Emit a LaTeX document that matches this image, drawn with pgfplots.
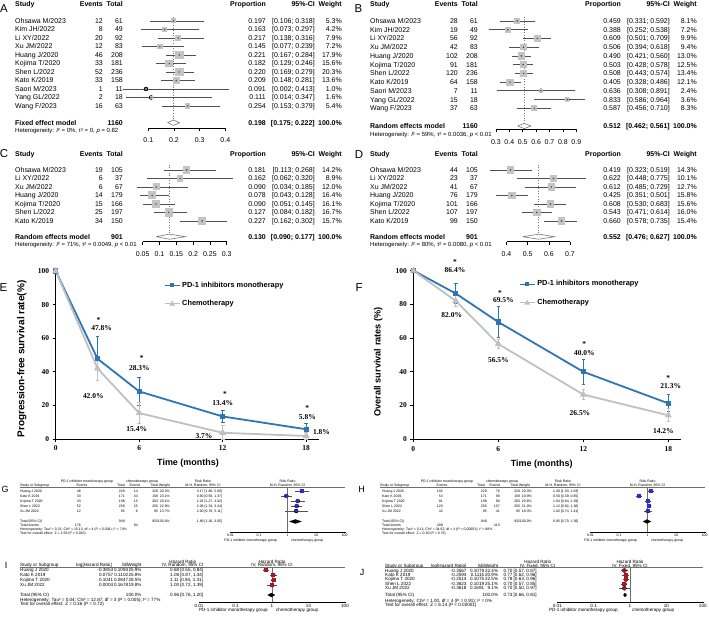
\documentclass[border=0pt]{standalone}
\usepackage{fontspec}
\setmainfont{Liberation Sans}
\newfontfamily\serifface{Liberation Serif}
\usepackage{pgfplots}
\usepackage{pgfplotstable}
\pgfplotsset{compat=1.18}

\newcommand\fsz[1]{\fontsize{#1}{#1}\selectfont}
\newcommand\numf{\serifface\bfseries\fsz{7.5}}

\definecolor{pdblue}{RGB}{46,117,182}
\definecolor{chgray}{RGB}{192,192,192}
\definecolor{boxgray}{RGB}{196,196,196}
\definecolor{cigray}{RGB}{80,80,80}
\definecolor{dotgray}{RGB}{120,120,120}
\definecolor{rmblue}{RGB}{45,45,190}
\definecolor{rmred}{RGB}{165,25,35}
\definecolor{rulegray}{RGB}{110,110,110}

\pgfplotsset{
  forest/.style={scale only axis, anchor=south west, clip=false,
    axis x line*=bottom, axis y line=none, axis line style={-},
    x axis line style={line width=0.6bp, black},
    tick align=outside, major tick length=3bp,
    xtick style={line width=0.6bp, black},
    xticklabel style={font=\fsz{7}, yshift=-3.5bp}, ytick=\empty},
  revman/.style={scale only axis, anchor=south west, clip=false, xmin=-2, xmax=2,
    axis x line*=bottom, axis y line=none, axis line style={-},
    x axis line style={line width=0.35bp, black},
    xtick={-2,-1,0,1,2}, xticklabels={0.01,0.1,1,10,100}, ytick=\empty,
    tick align=outside, major tick length=1.5bp, xtick style={line width=0.35bp, black},
    xticklabel style={inner sep=0.6bp}},
  cibar/.style={only marks, mark=none,
    error bars/x dir=both, error bars/x explicit, error bars/error mark=none,
    error bars/error bar style={line width=#1, cigray}},
  wbox/.style 2 args={scatter, only marks, mark=square*, point meta=explicit,
    draw=#1, fill=#1, mark options={draw=#1, fill=#1, line width=0pt},
    scatter/use mapped color={draw=#1, fill=#1},
    visualization depends on={#2*sqrt(\thisrow{w}) \as \msz},
    scatter/@pre marker code/.append style={/tikz/mark size=\msz}},
  survival/.style={scale only axis, anchor=south west, clip=false, xmin=0, ymin=0,
    axis lines=left, axis line style={-, line width=0.8bp},
    tick align=outside, major tick length=3bp, tick style={line width=0.8bp, black},
    xtick={0,6,12,18}, xticklabels={0,6,12,18},
    ytick={0,20,40,60,80,100}, yticklabels={0,20,40,60,80,100},
    xticklabel style={font=\numf, yshift=-0.5bp}, yticklabel style={font=\numf},
    legend style={anchor=north west, draw=none, fill=none, font=\bfseries\fsz{7.4},
      row sep=8bp, inner sep=0pt, cells={anchor=west}},
    legend image code/.code={\draw[mark repeat=2, mark phase=2, ##1, line width=1bp]
      plot coordinates {(0bp,0bp) (7.5bp,0bp) (15bp,0bp)};}},
  pd/.style={pdblue, line width=1.8bp, mark=square*, mark size=1.7bp},
  ch/.style={chgray, line width=1.8bp, mark=triangle*, mark size=2.3bp},
  ebar/.style={error bars/y dir=both, error bars/y explicit,
    error bars/error bar style={line width=0.9bp},
    error bars/error mark options={rotate=90, mark size=1.8bp, line width=0.9bp}},
}

% ---------- single-arm proportions
\pgfplotstableread{
k  p      lo     hi     w
1  0.197  0.106  0.318  5.3
2  0.163  0.073  0.297  4.2
3  0.217  0.138  0.316  7.9
4  0.145  0.077  0.239  7.2
5  0.221  0.167  0.284  17.9
6  0.182  0.129  0.246  15.6
7  0.220  0.169  0.279  20.3
8  0.209  0.148  0.281  13.6
9  0.091  0.002  0.413  1.0
10 0.111  0.014  0.347  1.6
11 0.254  0.153  0.379  5.4
}\propA
\pgfplotstableread{
k  p      lo     hi     w
1  0.459  0.331  0.592  8.1
2  0.388  0.252  0.538  7.2
3  0.609  0.501  0.709  9.9
4  0.506  0.394  0.618  9.4
5  0.490  0.421  0.560  13.0
6  0.503  0.428  0.578  12.5
7  0.508  0.443  0.574  13.4
8  0.405  0.328  0.486  12.1
9  0.636  0.308  0.891  2.4
10 0.833  0.586  0.964  3.6
11 0.587  0.456  0.710  8.3
}\propB
\pgfplotstableread{
k  p      lo     hi     w
1  0.181  0.113  0.268  14.2
2  0.162  0.062  0.320  8.9
3  0.090  0.034  0.185  12.0
4  0.078  0.043  0.128  16.4
5  0.090  0.051  0.145  16.1
6  0.127  0.084  0.182  16.7
7  0.227  0.162  0.302  15.7
}\propC
\pgfplotstableread{
k  p      lo     hi     w
1  0.419  0.323  0.519  14.3
2  0.622  0.448  0.775  10.1
3  0.612  0.485  0.729  12.7
4  0.425  0.351  0.501  15.8
5  0.608  0.530  0.683  15.6
6  0.543  0.471  0.614  16.0
7  0.660  0.578  0.735  15.4
}\propD

% ---------- survival rates (%) with error bars
\pgfplotstableread{
t   v     ep    em
0   100   0     0
3   47.8  13.2  13.2
6   28.3  8.2   8.2
12  13.4  3.6   3.6
18  5.8   3.4   3.4
}\pfsPD
\pgfplotstableread{
t   v     ep    em
0   100   0     0
3   42.0  7.0   7.0
6   15.4  6.4   6.4
12  3.7   4.5   3.7
18  1.8   2.2   1.8
}\pfsCT
\pgfplotstableread{
t   v     ep    em
0   100   0     0
3   86.4  6.0   6.0
6   69.5  9.4   9.4
12  40.0  7.6   7.6
18  21.3  5.0   5.0
}\osPD
\pgfplotstableread{
t   v     ep    em
0   100   0     0
3   82.0  3.0   3.0
6   56.5  2.5   2.5
12  26.5  3.0   3.0
18  14.2  3.8   3.8
}\osCT

% ---------- risk ratios and hazard ratios
\pgfplotstableread{
k rr   lo   hi   w
1 3.17 1.80 5.60 20.3
2 0.90 0.58 1.37 23.1
3 2.26 1.27 4.02 20.1
4 2.08 1.33 3.24 22.8
5 2.00 0.78 5.11 13.7
}\rrG
\pgfplotstableread{
k rr   lo   hi   w
1 1.30 1.03 1.63 20.3
2 0.50 0.39 0.65 19.9
3 1.04 0.84 1.29 20.6
4 1.12 0.92 1.36 21.0
5 1.02 0.74 1.41 18.3
}\rrH
\pgfplotstableread{
k rr   lo   hi   w
1 0.68 0.55 0.84 25.9
2 1.08 0.87 1.34 25.8
3 1.11 0.94 1.31 28.5
4 1.00 0.72 1.39 19.8
}\hrI
\pgfplotstableread{
k rr   lo   hi   w
1 0.70 0.57 0.87 22.4
2 0.77 0.62 0.96 20.9
3 0.78 0.63 0.96 22.5
4 0.70 0.57 0.85 25.1
5 0.70 0.50 0.97 9.1
}\hrJ

% text rows of the tables
\def\fdx{0}
\newcommand\frow[7]{% py, study, events, total, proportion, ci, weight
  \node[anchor=base west] at ({15+\fdx},{622.5-#1}) {#2};
  \node[anchor=base east] at ({103+\fdx},{622.5-#1}) {#3};
  \node[anchor=base east] at ({123+\fdx},{622.5-#1}) {#4};
  \node[anchor=base east] at ({266+\fdx},{622.5-#1}) {#5};
  \node[anchor=base east] at ({315+\fdx},{622.5-#1}) {#6};
  \node[anchor=base east] at ({342+\fdx},{622.5-#1}) {#7};}
\def\gdx{0}\def\gci{196.7}
\newcommand\grow[8]{% py, study, events, total, events, total, weight, ci
  \node[anchor=base west] at ({20+\gdx},{623.8-#1}) {#2};
  \node[anchor=base east] at ({81+\gdx},{623.8-#1}) {#3};
  \node[anchor=base east] at ({125+\gdx},{623.8-#1}) {#4};
  \node[anchor=base east] at ({138+\gdx},{623.8-#1}) {#5};
  \node[anchor=base east] at ({158.3+\gdx},{623.8-#1}) {#6};
  \node[anchor=base east] at ({170+\gdx},{623.8-#1}) {#7};
  \node[anchor=base west] at ({\gci},{623.8-#1}) {#8};}
\def\hx{20}\def\hlx{113.3}\def\hsx{128.3}\def\hwx{141.7}\def\hcx{170}
\newcommand\hrow[6]{% py, study, log HR, SE, weight, ci
  \node[anchor=base west] at ({\hx},{623.4-#1}) {#2};
  \node[anchor=base east] at ({\hlx},{623.4-#1}) {#3};
  \node[anchor=base east] at ({\hsx},{623.4-#1}) {#4};
  \node[anchor=base east] at ({\hwx},{623.4-#1}) {#5};
  \node[anchor=base west] at ({\hcx},{623.4-#1}) {#6};}

\begin{document}
\begin{tikzpicture}[x=1bp,y=1bp]
\path[use as bounding box] (0,0) rectangle (709,625);

% ================= A
\begin{axis}[forest, at={(148.3bp,497bp)}, width=77bp, height=115.5bp,
  xmin=0.1, xmax=0.4, ymin=-13.588, ymax=0,
  xtick={0.1,0.2,0.3,0.4}, xticklabels={0.1,0.2,0.3,0.4}]
  \addplot[dotted, dotgray, line width=0.6bp] coordinates {(0.198,-0.55) (0.198,-12.965)};
  \addplot[cibar=0.7bp] table[x=p, y expr=-\thisrow{k}, x error plus expr=\thisrow{hi}-\thisrow{p}, x error minus expr=\thisrow{p}-\thisrow{lo}] \propA;
  \addplot[wbox={boxgray}{0.87}] table[x=p, y expr=-\thisrow{k}, meta=w] \propA;
  \addplot[only marks, mark=*, mark size=0.55bp, cigray] table[x=p, y expr=-\thisrow{k}] \propA;
  \addplot[draw=dotgray, fill=white, line width=0.6bp] coordinates {(0.175,-12.965) (0.198,-12.645) (0.222,-12.965) (0.198,-13.285) (0.175,-12.965)};
\end{axis}

% ================= B
\begin{axis}[forest, at={(495.9bp,495.5bp)}, width=80.4bp, height=117.2bp,
  xmin=0.3, xmax=0.9, ymin=-13.43, ymax=0,
  xtick={0.3,0.4,0.5,0.6,0.7,0.8,0.9}, xticklabels={0.3,0.4,0.5,0.6,0.7,0.8,0.9}]
  \addplot[dotted, dotgray, line width=0.6bp] coordinates {(0.512,-0.5) (0.512,-13.03)};
  \addplot[cibar=0.7bp] table[x=p, y expr=-\thisrow{k}, x error plus expr=\thisrow{hi}-\thisrow{p}, x error minus expr=\thisrow{p}-\thisrow{lo}] \propB;
  \addplot[wbox={boxgray}{0.87}] table[x=p, y expr=-\thisrow{k}, meta=w] \propB;
  \addplot[only marks, mark=*, mark size=0.55bp, cigray] table[x=p, y expr=-\thisrow{k}] \propB;
  \addplot[draw=dotgray, fill=white, line width=0.6bp] coordinates {(0.462,-13.03) (0.512,-12.73) (0.561,-13.03) (0.512,-13.33) (0.462,-13.03)};
\end{axis}

% ================= C
\begin{axis}[forest, at={(142.7bp,383.3bp)}, width=84bp, height=80.2bp,
  xmin=0.05, xmax=0.3, ymin=-9.435, ymax=0,
  xtick={0.05,0.1,0.15,0.2,0.25,0.3}, xticklabels={0.05,0.1,0.15,0.2,0.25,0.3}]
  \addplot[dotted, dotgray, line width=0.6bp] coordinates {(0.130,-0.4) (0.130,-8.847)};
  \addplot[cibar=0.7bp] table[x=p, y expr=-\thisrow{k}, x error plus expr=\thisrow{hi}-\thisrow{p}, x error minus expr=\thisrow{p}-\thisrow{lo}] \propC;
  \addplot[wbox={boxgray}{0.87}] table[x=p, y expr=-\thisrow{k}, meta=w] \propC;
  \addplot[only marks, mark=*, mark size=0.55bp, cigray] table[x=p, y expr=-\thisrow{k}] \propC;
  \addplot[draw=dotgray, fill=white, line width=0.6bp] coordinates {(0.090,-8.847) (0.130,-8.547) (0.177,-8.847) (0.130,-9.147) (0.090,-8.847)};
\end{axis}

% ================= D
\begin{axis}[forest, at={(506.5bp,383.3bp)}, width=63.5bp, height=80.2bp,
  xmin=0.4, xmax=0.7, ymin=-9.435, ymax=0,
  xtick={0.4,0.5,0.6,0.7}, xticklabels={0.4,0.5,0.6,0.7}]
  \addplot[dotted, dotgray, line width=0.6bp] coordinates {(0.552,-0.4) (0.552,-8.847)};
  \addplot[cibar=0.7bp] table[x=p, y expr=-\thisrow{k}, x error plus expr=\thisrow{hi}-\thisrow{p}, x error minus expr=\thisrow{p}-\thisrow{lo}] \propD;
  \addplot[wbox={boxgray}{0.87}] table[x=p, y expr=-\thisrow{k}, meta=w] \propD;
  \addplot[only marks, mark=*, mark size=0.55bp, cigray] table[x=p, y expr=-\thisrow{k}] \propD;
  \addplot[draw=dotgray, fill=white, line width=0.6bp] coordinates {(0.476,-8.847) (0.552,-8.547) (0.627,-8.847) (0.552,-9.147) (0.476,-8.847)};
\end{axis}

% ================= E
\begin{axis}[survival, at={(55.7bp,186bp)}, width=263.6bp, height=169.7bp,
  xmax=18.94, ymax=101, legend style={at={(0.411,0.94)}}]
  \addplot[pd, ebar] table[x=t, y=v, y error plus=ep, y error minus=em] \pfsPD;
  \addlegendentry{PD-1 inhibitors monotherapy}
  \addplot[ch, ebar] table[x=t, y=v, y error plus=ep, y error minus=em] \pfsCT;
  \addlegendentry{Chemotherapy}
  \begin{scope}[every node/.style={font=\numf, inner sep=0pt}]
    \node at (axis cs:3.07,71.0) {*};   \node at (axis cs:3.30,66.2) {47.8\%};
    \node at (axis cs:2.70,25.6) {42.0\%};
    \node at (axis cs:6.18,48.2) {*};   \node at (axis cs:6.01,42.1) {28.3\%};
    \node at (axis cs:5.82,5.95) {15.4\%};
    \node at (axis cs:12.16,27.0) {*};  \node at (axis cs:12.0,21.3) {13.4\%};
    \node at (axis cs:10.65,2.0) {3.7\%};
    \node at (axis cs:18.08,18.3) {*};  \node at (axis cs:18.08,13.0) {5.8\%};
    \node at (axis cs:19.1,4.0) {1.8\%};
  \end{scope}
\end{axis}

% ================= F
\begin{axis}[survival, at={(413.3bp,185.7bp)}, width=267.8bp, height=170.4bp,
  xmax=18.9, ymax=101, legend style={at={(0.395,0.944)}}]
  \addplot[pd, ebar] table[x=t, y=v, y error plus=ep, y error minus=em] \osPD;
  \addlegendentry{PD-1 inhibitors monotherapy}
  \addplot[ch, ebar] table[x=t, y=v, y error plus=ep, y error minus=em] \osCT;
  \addlegendentry{Chemotherapy}
  \begin{scope}[every node/.style={font=\numf, inner sep=0pt}]
    \node at (axis cs:2.94,105.2) {*};  \node at (axis cs:2.94,100.2) {86.4\%};
    \node at (axis cs:2.71,73.4) {82.0\%};
    \node at (axis cs:6.12,86.8) {*};   \node at (axis cs:6.35,82.4) {69.5\%};
    \node at (axis cs:6.0,46.7) {56.5\%};
    \node at (axis cs:12.07,56.2) {*};  \node at (axis cs:12.07,51.4) {40.0\%};
    \node at (axis cs:11.76,15.8) {26.5\%};
    \node at (axis cs:18.0,36.6) {*};   \node at (axis cs:18.17,31.8) {21.3\%};
    \node at (axis cs:17.65,4.8) {14.2\%};
  \end{scope}
\end{axis}

% ================= G
\begin{axis}[revman, at={(230.5bp,93bp)}, width=114.2bp, height=46bp, ymin=-9.2, ymax=0,
  xticklabel style={font=\fsz{3.5}}]
  \addplot[rulegray, line width=0.35bp] coordinates {(0,-0.3) (0,-9.2)};
  \addplot[cibar=0.4bp] table[x expr={log10(\thisrow{rr})}, y expr=-\thisrow{k}, x error plus expr={log10(\thisrow{hi})-log10(\thisrow{rr})}, x error minus expr={log10(\thisrow{rr})-log10(\thisrow{lo})}] \rrG;
  \addplot[wbox={rmblue}{0.27}] table[x expr={log10(\thisrow{rr})}, y expr=-\thisrow{k}, meta=w] \rrG;
  \addplot[fill=black, draw=black, line width=0.2bp] table[x expr={log10(\thisrow{x})}, y=y] {
    x    y
    1.16 -7.1
    1.89 -6.7
    3.05 -7.1
    1.89 -7.5
    1.16 -7.1
  };
\end{axis}

% ================= H
\begin{axis}[revman, at={(590.5bp,93bp)}, width=114.2bp, height=46bp, ymin=-9.2, ymax=0,
  xticklabel style={font=\fsz{3.5}}]
  \addplot[rulegray, line width=0.35bp] coordinates {(0,-0.3) (0,-9.2)};
  \addplot[cibar=0.4bp] table[x expr={log10(\thisrow{rr})}, y expr=-\thisrow{k}, x error plus expr={log10(\thisrow{hi})-log10(\thisrow{rr})}, x error minus expr={log10(\thisrow{rr})-log10(\thisrow{lo})}] \rrH;
  \addplot[wbox={rmblue}{0.27}] table[x expr={log10(\thisrow{rr})}, y expr=-\thisrow{k}, meta=w] \rrH;
  \addplot[fill=black, draw=black, line width=0.2bp] table[x expr={log10(\thisrow{x})}, y=y] {
    x    y
    0.70 -7.1
    0.95 -6.7
    1.30 -7.1
    0.95 -7.5
    0.70 -7.1
  };
\end{axis}

% ================= I
\begin{axis}[revman, at={(199bp,23.3bp)}, width=146bp, height=36.7bp, ymin=-7.34, ymax=0,
  xticklabel style={font=\fsz{4.6}}]
  \addplot[rulegray, line width=0.35bp] coordinates {(0,-0.46) (0,-7.34)};
  \addplot[cibar=0.45bp] table[x expr={log10(\thisrow{rr})}, y expr=-\thisrow{k}, x error plus expr={log10(\thisrow{hi})-log10(\thisrow{rr})}, x error minus expr={log10(\thisrow{rr})-log10(\thisrow{lo})}] \hrI;
  \addplot[wbox={rmred}{0.3}] table[x expr={log10(\thisrow{rr})}, y expr=-\thisrow{k}, meta=w] \hrI;
  \addplot[fill=black, draw=black, line width=0.2bp] table[x expr={log10(\thisrow{x})}, y=y] {
    x    y
    0.76 -6
    0.96 -5.6
    1.20 -6
    0.96 -6.4
    0.76 -6
  };
\end{axis}

% ================= J
\begin{axis}[revman, at={(557.2bp,23.3bp)}, width=145.6bp, height=35.65bp, ymin=-8.01, ymax=0,
  xticklabel style={font=\fsz{4.6}}]
  \addplot[rulegray, line width=0.35bp] coordinates {(0,-0.28) (0,-8.01)};
  \addplot[cibar=0.45bp] table[x expr={log10(\thisrow{rr})}, y expr=-\thisrow{k}, x error plus expr={log10(\thisrow{hi})-log10(\thisrow{rr})}, x error minus expr={log10(\thisrow{rr})-log10(\thisrow{lo})}] \hrJ;
  \addplot[wbox={rmred}{0.3}] table[x expr={log10(\thisrow{rr})}, y expr=-\thisrow{k}, meta=w] \hrJ;
  \addplot[fill=black, draw=black, line width=0.2bp] table[x expr={log10(\thisrow{x})}, y=y] {
    x    y
    0.66 -6.506
    0.73 -6.056
    0.81 -6.506
    0.73 -6.956
    0.66 -6.506
  };
\end{axis}

% ================= text of the tables
\begin{scope}[every node/.style={inner sep=0pt}]
  % panel letters
  \begin{scope}[every node/.append style={font=\fsz{11.5}}]
    \node at (4,616) {A};   \node at (358.5,616) {B};
    \node at (4,471) {C};   \node at (359,470) {D};
    \node at (3.5,337.5) {E}; \node at (359,337) {F};
  \end{scope}
  \begin{scope}[every node/.append style={font=\fsz{9}}]
    \node at (5,135.5) {G};  \node at (361.5,135.5) {H};
    \node at (6,60) {I};     \node at (362,53) {J};
  \end{scope}

  % ---- A
  \begin{scope}[every node/.append style={font=\fsz{7}}]
    \def\fdx{0}
    \frow{4}{\bfseries Study}{\bfseries Events}{\bfseries Total}{\bfseries Proportion}{\bfseries 95\%-CI}{\bfseries Weight}
    \frow{21}{Ohsawa M/2023}{12}{61}{0.197}{[0.106; 0.318]}{5.3\%}
    \frow{29.5}{Kim JH/2022}{8}{49}{0.163}{[0.073; 0.297]}{4.2\%}
    \frow{38}{Li XY/2022}{20}{92}{0.217}{[0.138; 0.316]}{7.9\%}
    \frow{46.5}{Xu JM/2022}{12}{83}{0.145}{[0.077; 0.239]}{7.2\%}
    \frow{55}{Huang J/2020}{46}{208}{0.221}{[0.167; 0.284]}{17.9\%}
    \frow{63.5}{Kojima T/2020}{33}{181}{0.182}{[0.129; 0.246]}{15.6\%}
    \frow{72}{Shen L/2022}{52}{236}{0.220}{[0.169; 0.279]}{20.3\%}
    \frow{80.5}{Kato K/2019}{33}{158}{0.209}{[0.148; 0.281]}{13.6\%}
    \frow{89}{Saori M/2023}{1}{11}{0.091}{[0.002; 0.413]}{1.0\%}
    \frow{97.5}{Yang GL/2022}{2}{18}{0.111}{[0.014; 0.347]}{1.6\%}
    \frow{106}{Wang F/2023}{16}{63}{0.254}{[0.153; 0.379]}{5.4\%}
    \frow{122.7}{\bfseries Fixed effect model}{}{\bfseries 1160}{\bfseries 0.198}{\bfseries [0.175; 0.222]}{\bfseries 100.0\%}
    \node[anchor=base west, font=\fsz{6}] at (15,{623-131}) {Heterogeneity: \textit{I}² = 0\%, τ² = 0, \textit{p} = 0.82};
    % ---- B
    \def\fdx{355}
    \frow{4}{\bfseries Study}{\bfseries Events}{\bfseries Total}{\bfseries Proportion}{\bfseries 95\%-CI}{\bfseries Weight}
    \frow{21}{Ohsawa M/2023}{28}{61}{0.459}{[0.331; 0.592]}{8.1\%}
    \frow{29.73}{Kim JH/2022}{19}{49}{0.388}{[0.252; 0.538]}{7.2\%}
    \frow{38.46}{Li XY/2022}{56}{92}{0.609}{[0.501; 0.709]}{9.9\%}
    \frow{47.19}{Xu JM/2022}{42}{83}{0.506}{[0.394; 0.618]}{9.4\%}
    \frow{55.92}{Huang J/2020}{102}{208}{0.490}{[0.421; 0.560]}{13.0\%}
    \frow{64.65}{Kojima T/2020}{91}{181}{0.503}{[0.428; 0.578]}{12.5\%}
    \frow{73.38}{Shen L/2022}{120}{236}{0.508}{[0.443; 0.574]}{13.4\%}
    \frow{82.11}{Kato K/2019}{64}{158}{0.405}{[0.328; 0.486]}{12.1\%}
    \frow{90.84}{Saori M/2023}{7}{11}{0.636}{[0.308; 0.891]}{2.4\%}
    \frow{99.57}{Yang GL/2022}{15}{18}{0.833}{[0.586; 0.964]}{3.6\%}
    \frow{108.3}{Wang F/2023}{37}{63}{0.587}{[0.456; 0.710]}{8.3\%}
    \frow{126}{\bfseries Random effects model}{}{\bfseries 1160}{\bfseries 0.512}{\bfseries [0.462; 0.561]}{\bfseries 100.0\%}
    \node[anchor=base west, font=\fsz{6}] at (370,{623-134.3}) {Heterogeneity: \textit{I}² = 59\%, τ² = 0.0036, \textit{p} < 0.01};
    % ---- C
    \def\fdx{0}
    \frow{154}{\bfseries Study}{\bfseries Events}{\bfseries Total}{\bfseries Proportion}{\bfseries 95\%-CI}{\bfseries Weight}
    \frow{170}{Ohsawa M/2023}{19}{105}{0.181}{[0.113; 0.268]}{14.2\%}
    \frow{178.5}{Li XY/2022}{6}{37}{0.162}{[0.062; 0.320]}{8.9\%}
    \frow{187}{Xu JM/2022}{6}{67}{0.090}{[0.034; 0.185]}{12.0\%}
    \frow{195.5}{Huang J/2020}{14}{179}{0.078}{[0.043; 0.128]}{16.4\%}
    \frow{204}{Kojima T/2020}{15}{166}{0.090}{[0.051; 0.145]}{16.1\%}
    \frow{212.5}{Shen L/2022}{25}{197}{0.127}{[0.084; 0.182]}{16.7\%}
    \frow{221}{Kato K/2019}{34}{150}{0.227}{[0.162; 0.302]}{15.7\%}
    \frow{236.7}{\bfseries Random effects model}{}{\bfseries 901}{\bfseries 0.130}{\bfseries [0.090; 0.177]}{\bfseries 100.0\%}
    \node[anchor=base west, font=\fsz{6}] at (15,{623-245}) {Heterogeneity: \textit{I}² = 71\%, τ² = 0.0049, \textit{p} < 0.01};
    % ---- D
    \def\fdx{355}
    \frow{154}{\bfseries Study}{\bfseries Events}{\bfseries Total}{\bfseries Proportion}{\bfseries 95\%-CI}{\bfseries Weight}
    \frow{170}{Ohsawa M/2023}{44}{105}{0.419}{[0.323; 0.519]}{14.3\%}
    \frow{178.5}{Li XY/2022}{23}{37}{0.622}{[0.448; 0.775]}{10.1\%}
    \frow{187}{Xu JM/2022}{41}{67}{0.612}{[0.485; 0.729]}{12.7\%}
    \frow{195.5}{Huang J/2020}{76}{179}{0.425}{[0.351; 0.501]}{15.8\%}
    \frow{204}{Kojima T/2020}{101}{166}{0.608}{[0.530; 0.683]}{15.6\%}
    \frow{212.5}{Shen L/2022}{107}{197}{0.543}{[0.471; 0.614]}{16.0\%}
    \frow{221}{Kato K/2019}{99}{150}{0.660}{[0.578; 0.735]}{15.4\%}
    \frow{236.7}{\bfseries Random effects model}{}{\bfseries 901}{\bfseries 0.552}{\bfseries [0.476; 0.627]}{\bfseries 100.0\%}
    \node[anchor=base west, font=\fsz{6}] at (370,{623-245}) {Heterogeneity: \textit{I}² = 80\%, τ² = 0.0080, \textit{p} < 0.01};
  \end{scope}

  % ---- axis titles of E and F
  \begin{scope}[every node/.append style={font=\bfseries\fsz{9}}]
    \node at (188,162) {Time (months)};
    \node at (541.7,160.5) {Time (months)};
  \end{scope}
  \node[rotate=90, font=\bfseries\fsz{10}] at (21.7,266) {Progression-free survival rate(\%)};
  \node[rotate=90, font=\bfseries\fsz{9.2}] at (378.3,263) {Overall survival rates (\%)};

  % ---- G and H
  \begin{scope}[every node/.append style={font=\fsz{3.5}}]
    \foreach \dx/\ax in {0/0, 360/360} {
      \node[anchor=base] at ({87+\dx},{623.8-481}) {PD-1 inhibitor monotherapy group};
      \node[anchor=base] at ({142+\dx},{623.8-481}) {chemotherapy group};
      \node[anchor=base] at ({203+\dx},{623.8-481}) {Risk Ratio};
      \node[anchor=base] at ({287.5+\ax},{623.8-481}) {Risk Ratio};
      \node[anchor=base west] at ({20+\dx},{623.8-485}) {Study or Subgroup};
      \node[anchor=base] at ({82+\dx},{623.8-485}) {Events};
      \node[anchor=base east] at ({125+\dx},{623.8-485}) {Total};
      \node[anchor=base] at ({135+\dx},{623.8-485}) {Events};
      \node[anchor=base east] at ({158.3+\dx},{623.8-485}) {Total};
      \node[anchor=base east] at ({170+\dx},{623.8-485}) {Weight};
      \node[anchor=base] at ({203+\dx},{623.8-485}) {M-H, Random, 95\% CI};
      \node[anchor=base] at ({287.5+\ax},{623.8-485}) {M-H, Random, 95\% CI};
      \draw[rulegray, line width=0.3bp] ({20+\dx},{625-487.5}) -- ({345+\dx},{625-487.5});
      \node[anchor=base east] at ({277+\ax},{623.8-540}) {PD-1 inhibitor monotherapy group};
      \node[anchor=base west] at ({291+\ax},{623.8-540}) {chemotherapy group};
    }
    \def\gdx{0}\def\gci{196.7}
    \grow{491}{Huang J 2020}{46}{229}{14}{220}{20.3\%}{3.17 [1.80, 5.60]}
    \grow{496}{Kato K 2019}{33}{171}{34}{158}{23.1\%}{0.90 [0.58, 1.37]}
    \grow{501}{Kojima T 2020}{33}{198}{15}{203}{20.1\%}{2.26 [1.27, 4.02]}
    \grow{506}{Shen L 2022}{52}{256}{25}{256}{22.8\%}{2.08 [1.33, 3.24]}
    \grow{511}{Xu JM 2022}{12}{95}{6}{95}{13.7\%}{2.00 [0.78, 5.11]}
    \grow{521.5}{Total (95\% CI)}{}{949}{}{932}{100.0\%}{1.89 [1.16, 3.05]}
    \grow{525.5}{Total events}{176}{}{94}{}{}{}
    \node[anchor=base west] at (20,{623.8-529.5}) {Heterogeneity: Tau² = 0.21; Chi² = 15.13, df = 4 (P = 0.004); I² = 74\%};
    \node[anchor=base west] at (20,{623.8-533.5}) {Test for overall effect: Z = 2.58 (P = 0.010)};
    \def\gdx{362}\def\gci{553}
    \grow{491}{Huang J 2020}{102}{229}{76}{220}{20.3\%}{1.30 [1.03, 1.63]}
    \grow{496}{Kato K 2019}{54}{171}{99}{158}{19.9\%}{0.50 [0.39, 0.65]}
    \grow{501}{Kojima T 2020}{91}{198}{90}{203}{20.6\%}{1.04 [0.84, 1.29]}
    \grow{506}{Shen L 2022}{120}{256}{107}{256}{21.0\%}{1.12 [0.92, 1.36]}
    \grow{511}{Xu JM 2022}{42}{95}{41}{95}{18.3\%}{1.02 [0.74, 1.41]}
    \grow{521.5}{Total (95\% CI)}{}{949}{}{932}{100.0\%}{0.95 [0.70, 1.30]}
    \grow{525.5}{Total events}{409}{}{413}{}{}{}
    \node[anchor=base west] at (382,{623.8-529.5}) {Heterogeneity: Tau² = 0.11; Chi² = 34.62, df = 4 (P < 0.00001); I² = 88\%};
    \node[anchor=base west] at (382,{623.8-533.5}) {Test for overall effect: Z = 0.30 (P = 0.76)};
  \end{scope}

  % ---- I and J
  \begin{scope}[every node/.append style={font=\fsz{4.6}}]
    \node[anchor=base] at (182.7,{623.4-561.5}) {Hazard Ratio};
    \node[anchor=base] at (272,{623.4-561.5}) {Hazard Ratio};
    \node[anchor=base west] at (20,{623.4-565.3}) {Study or Subgroup};
    \node[anchor=base east] at (112,{623.4-565.3}) {log[Hazard Ratio]};
    \node[anchor=base east] at (128.3,{623.4-565.3}) {SE};
    \node[anchor=base east] at (141.7,{623.4-565.3}) {Weight};
    \node[anchor=base] at (182.7,{623.4-565.3}) {IV, Random, 95\% CI};
    \node[anchor=base] at (272,{623.4-565.3}) {IV, Random, 95\% CI};
    \draw[rulegray, line width=0.3bp] (20,{625-567.3}) -- (345,{625-567.3});
    \def\hx{20}\def\hlx{113.3}\def\hsx{128.3}\def\hwx{141.7}\def\hcx{170}
    \hrow{570}{Huang J 2020}{-0.3853}{0.1094}{25.9\%}{0.68 [0.55, 0.84]}
    \hrow{575}{Kato K 2019}{0.0757}{0.1102}{25.8\%}{1.08 [0.87, 1.34]}
    \hrow{580}{Kojima T 2020}{0.1041}{0.0847}{28.5\%}{1.11 [0.94, 1.31]}
    \hrow{585}{Xu JM 2022}{0.0004}{0.1678}{19.8\%}{1.00 [0.72, 1.39]}
    \hrow{595}{Total (95\% CI)}{}{}{100.0\%}{0.96 [0.76, 1.20]}
    \node[anchor=base west] at (20,{623.4-599.5}) {Heterogeneity: Tau² = 0.04; Chi² = 12.87, df = 3 (P = 0.005); I² = 77\%};
    \node[anchor=base west] at (20,{623.4-604.3}) {Test for overall effect: Z = 0.36 (P = 0.72)};
    \node[anchor=base east] at (268,{623.4-609.5}) {PD-1 inhibitor monotherapy group};
    \node[anchor=base west] at (276,{623.4-609.5}) {chemotherapy group};

    \node[anchor=base] at (537.7,{623.4-561.5}) {Hazard Ratio};
    \node[anchor=base] at (630,{623.4-561.5}) {Hazard Ratio};
    \node[anchor=base west] at (385,{623.4-565.5}) {Study or Subgroup};
    \node[anchor=base east] at (466.7,{623.4-565.5}) {log[Hazard Ratio]};
    \node[anchor=base east] at (484.3,{623.4-565.5}) {SE};
    \node[anchor=base east] at (498.3,{623.4-565.5}) {Weight};
    \node[anchor=base] at (537.7,{623.4-565.5}) {IV, Fixed, 95\% CI};
    \node[anchor=base] at (630,{623.4-565.5}) {IV, Fixed, 95\% CI};
    \draw[rulegray, line width=0.3bp] (385,{625-567.3}) -- (703,{625-567.3});
    \def\hx{385}\def\hlx{466.7}\def\hsx{484.3}\def\hwx{498.3}\def\hcx{503.3}
    \hrow{570.5}{Huang J 2020}{-0.3567}{0.1079}{22.4\%}{0.70 [0.57, 0.87]}
    \hrow{574.95}{Kato K 2019}{-0.2594}{0.1115}{20.9\%}{0.77 [0.62, 0.96]}
    \hrow{579.4}{Kojima T 2020}{-0.2514}{0.1075}{22.5\%}{0.78 [0.63, 0.96]}
    \hrow{583.85}{Shen L 2022}{-0.3623}{0.1019}{25.1\%}{0.70 [0.57, 0.85]}
    \hrow{588.3}{Xu JM 2022}{-0.3618}{0.1691}{9.1\%}{0.70 [0.50, 0.97]}
    \hrow{595}{Total (95\% CI)}{}{}{100.0\%}{0.73 [0.66, 0.81]}
    \node[anchor=base west] at (385,{623.4-600.5}) {Heterogeneity: Chi² = 1.00, df = 4 (P = 0.91); I² = 0\%};
    \node[anchor=base west] at (385,{623.4-605}) {Test for overall effect: Z = 6.14 (P < 0.00001)};
    \node[anchor=base east] at (618,{623.4-609.5}) {PD-1 inhibitor monotherapy group};
    \node[anchor=base west] at (632,{623.4-609.5}) {chemotherapy group};
  \end{scope}
\end{scope}
\end{tikzpicture}
\end{document}
